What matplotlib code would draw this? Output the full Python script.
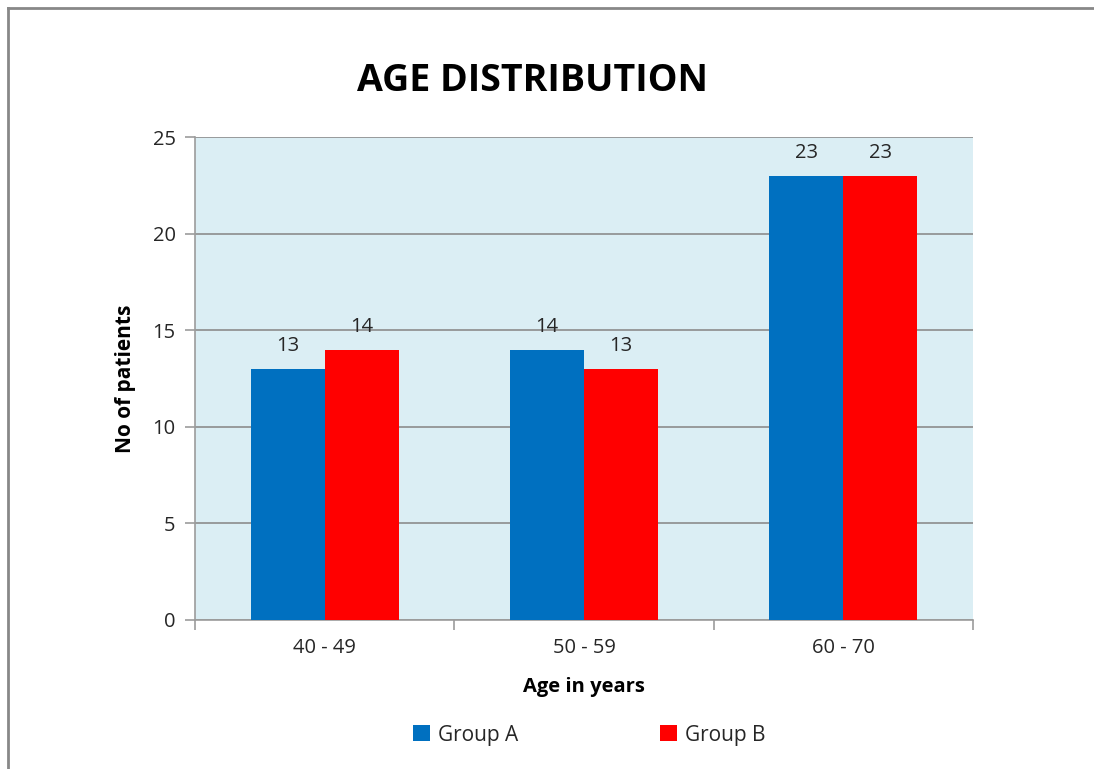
import numpy as np
import matplotlib.pyplot as plt
from matplotlib.lines import Line2D

plt.rcParams['font.family'] = ['Open Sans', 'DejaVu Sans']

categories = ['40 - 49', '50 - 59', '60 - 70']
group_a = [13, 14, 23]
group_b = [14, 13, 23]
series_names = ['Group A', 'Group B']

blue = '#0070C0'
red = '#FF0000'
txt = '#262626'

fig = plt.figure(figsize=(10.94, 7.69), dpi=100)
ax = fig.add_axes([0.1782, 0.1938, 0.7112, 0.628])
ax.set_facecolor('#DBEEF4')

x = np.arange(len(categories))
w = 0.285
ba = ax.bar(x - w / 2, group_a, w, color=blue, label=series_names[0], zorder=3)
bb = ax.bar(x + w / 2, group_b, w, color=red, label=series_names[1], zorder=3)

for bars in (ba, bb):
    for b in bars:
        ax.annotate(str(int(b.get_height())), (b.get_x() + b.get_width() / 2, b.get_height()),
                    xytext=(0, 9), textcoords='offset points', ha='center', va='bottom',
                    fontsize=14.5, color=txt)

ax.set_xlim(-0.5, 2.5)
ax.set_ylim(0, 25)
ax.set_yticks(range(0, 26, 5))
ax.yaxis.grid(True, color='#8C8C8C', linewidth=1.2, zorder=1)
ax.set_axisbelow(True)

ax.set_xticks(x)
ax.set_xticklabels(categories)
ax.set_xticks([-0.5, 0.5, 1.5, 2.5], minor=True)
ax.tick_params(axis='x', which='major', length=0, pad=13, labelsize=14.5, labelcolor=txt)
ax.tick_params(axis='x', which='minor', length=7, color='#9C9C9C', width=1.2)
ax.tick_params(axis='y', length=7, color='#9C9C9C', width=1.2, pad=7, labelsize=14.5, labelcolor=txt)

for s in ('top', 'right'):
    ax.spines[s].set_visible(False)
for s in ('left', 'bottom'):
    ax.spines[s].set_color('#9C9C9C')
    ax.spines[s].set_linewidth(1.2)

ax.set_xlabel('Age in years', fontsize=14.5, fontweight='bold', labelpad=14)
ax.set_ylabel('No of patients', fontsize=15, fontweight='bold', labelpad=12)
fig.text(0.487, 0.895, 'AGE DISTRIBUTION', ha='center', va='center', fontsize=27, fontweight='bold')

fig.legend(handles=[ba, bb], loc='center', bbox_to_anchor=(0.539, 0.044), ncol=2, frameon=False,
           fontsize=15, handlelength=0.8, handleheight=0.8, handletextpad=0.4, columnspacing=6.8,
           labelcolor=txt)

# frame of the chart area (only top and left edges visible)
fig.add_artist(Line2D([0.0075, 0.0075], [0, 0.99], transform=fig.transFigure, color='#888888', lw=2))
fig.add_artist(Line2D([0.0075, 1], [0.99, 0.99], transform=fig.transFigure, color='#888888', lw=2))

fig.savefig('out.png')
